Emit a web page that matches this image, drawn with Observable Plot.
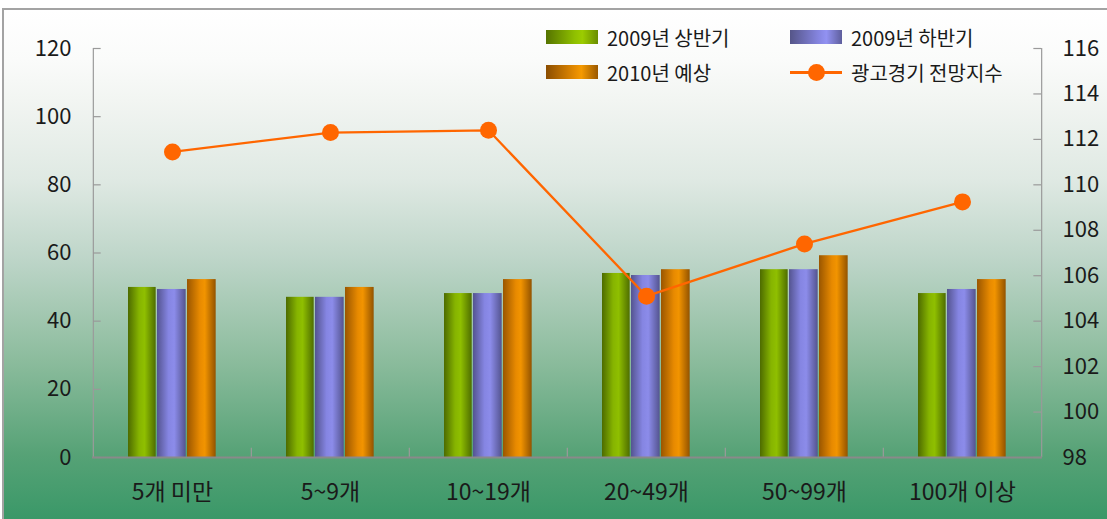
<!DOCTYPE html>
<html><head><meta charset="utf-8">
<script src="https://cdn.jsdelivr.net/npm/d3@7"></script>
<script src="https://cdn.jsdelivr.net/npm/@observablehq/plot@0.6"></script>
<style>
body{margin:0;background:#fff;font-family:"Noto Sans CJK KR","Noto Sans",sans-serif;}
#wrap{position:relative;width:1107px;height:519px;overflow:hidden;}
#bg{position:absolute;left:2px;top:8px;width:1130px;height:540px;border-top:2px solid #a3a3a3;border-left:2px solid #a3a3a3;
 background:linear-gradient(to bottom,#ffffff 0px,#fafbfa 50px,#f2f5f2 90px,#dfe9e3 170px,#bdd5c8 250px,#8cbc9d 350px,#56a276 445px,#3a9868 509px,#3a9868 540px);}
#chart{position:absolute;left:0;top:0;}
.lg{position:absolute;font-size:20px;color:#1a1a1a;white-space:nowrap;line-height:1;}
.sw{position:absolute;width:52px;height:14px;}
</style></head>
<body>
<div id="wrap"><div id="bg"></div><div id="chart"></div><div id="legend"></div></div>
<script>
// ---- data ----
const categories = ["5개 미만", "5~9개", "10~19개", "20~49개", "50~99개", "100개 이상"];
const firstHalf2009 = [49.9, 47, 48.1, 54, 55.1, 48.1];
const secondHalf2009 = [49.3, 47, 48.1, 53.4, 55.1, 49.3];
const forecast2010 = [52.2, 49.9, 52.2, 55.1, 59.2, 52.2];
const outlookIndex = [111.45, 112.3, 112.4, 105.1, 107.4, 109.25];
const leftTicks = [0, 20, 40, 60, 80, 100, 120];
const rightTicks = [98, 100, 102, 104, 106, 108, 110, 112, 114, 116];
const seriesNames = ["2009년 상반기", "2009년 하반기", "2010년 예상", "광고경기 전망지수"];

// ---- layout ----
const W = 1107, H = 519, mL = 92, mR = 65, mT = 48, mB = 62;
const bw = (W - mL - mR) / categories.length;
const rMin = rightTicks[0], rMax = rightTicks[rightTicks.length - 1];
const lMax = leftTicks[leftTicks.length - 1];
const toLeft = v => (v - rMin) / (rMax - rMin) * lMax;
const fromLeft = v => rMin + v / lMax * (rMax - rMin);

const rows = categories.map((c, i) => ({cat: c, a: firstHalf2009[i], b: secondHalf2009[i], c: forecast2010[i], idx: outlookIndex[i]}));

const bars = [
  {key: "a", fill: "url(#gGreen)", il: 35, ir: bw - 63},
  {key: "b", fill: "url(#gPurple)", il: 64, ir: bw - 93},
  {key: "c", fill: "url(#gOrange)", il: 94, ir: bw - 123}
];
const gray = "#9a9a9a";

const plot = Plot.plot({
  width: W, height: H,
  marginLeft: mL, marginRight: mR, marginTop: mT, marginBottom: mB,
  style: {background: "transparent", fontFamily: "'Noto Sans CJK KR', sans-serif", fontSize: "22px", color: "#1a1a1a"},
  x: {type: "band", domain: categories, padding: 0, label: null},
  y: {domain: [0, lMax], label: null},
  marks: [
    ...bars.map(s => Plot.barY(rows, {x: "cat", y: s.key, fill: s.fill, insetLeft: s.il, insetRight: s.ir})),
    Plot.ruleX([categories[0]], {dx: -bw / 2, y1: 0, y2: lMax, stroke: gray, strokeWidth: 1.2}),
    Plot.ruleX([categories[categories.length - 1]], {dx: bw / 2, y1: 0, y2: lMax, stroke: gray, strokeWidth: 1.2}),
    Plot.ruleX(categories.slice(1), {dx: -bw / 2, y1: 0, y2: 2.7, stroke: gray, strokeWidth: 1.2}),
    Plot.tickY(leftTicks, {y: d => d, x: () => categories[0], insetRight: bw - 8, stroke: gray, strokeWidth: 1.2}),
    Plot.tickY(rightTicks.map(toLeft), {y: d => d, x: () => categories[categories.length - 1], insetLeft: bw - 8, stroke: gray, strokeWidth: 1.2}),
    Plot.ruleY([0], {stroke: "#8a8a8a", strokeWidth: 2}),
    Plot.axisY({anchor: "left", ticks: leftTicks, tickSize: 0, tickPadding: 21, fontSize: 22, label: null}),
    Plot.axisY({anchor: "right", ticks: rightTicks.map(toLeft), tickFormat: d => Math.round(fromLeft(d)), tickSize: 0, tickPadding: 20, fontSize: 22, label: null}),
    Plot.axisX({tickSize: 0, tickPadding: 26, fontSize: 23, label: null}),
    Plot.line(rows, {x: "cat", y: d => toLeft(d.idx), stroke: "#ff6600", strokeWidth: 2.3}),
    Plot.dot(rows, {x: "cat", y: d => toLeft(d.idx), r: 8.5, fill: "#ff6600", stroke: "none"})
  ]
});

// gradients for bars
const defs = d3.select(plot).insert("defs", ":first-child");
const grads = {
  gGreen: [["0%", "#4d6b00"], ["40%", "#86b400"], ["60%", "#8fbf00"], ["100%", "#4f6e00"]],
  gPurple: [["0%", "#545490"], ["40%", "#8585e2"], ["60%", "#8c8cea"], ["100%", "#545490"]],
  gOrange: [["0%", "#9a5600"], ["45%", "#e88a00"], ["62%", "#f29400"], ["100%", "#935300"]]
};
for (const [id, stops] of Object.entries(grads)) {
  const g = defs.append("linearGradient").attr("id", id).attr("x1", 0).attr("x2", 1).attr("y1", 0).attr("y2", 0);
  for (const [o, c] of stops) g.append("stop").attr("offset", o).attr("stop-color", c);
}
document.getElementById("chart").appendChild(plot);

// legend
const legendCss = [
  "linear-gradient(to right,#557300,#8fc000 55%,#9ccc00 70%,#6a8d00)",
  "linear-gradient(to right,#555588,#8585e0 55%,#9292f2 70%,#5e5e9c)",
  "linear-gradient(to right,#8b4d00,#e48a00 55%,#f59a00 68%,#9a5800)"
];
const lg = document.getElementById("legend");
const items = [
  {x: 546, y: 30, kind: 0}, {x: 790, y: 30, kind: 1},
  {x: 546, y: 65, kind: 2}, {x: 790, y: 65, kind: 3}
];
items.forEach((it, i) => {
  if (it.kind < 3) {
    const s = document.createElement("div");
    s.className = "sw";
    s.style.left = it.x + "px"; s.style.top = it.y + "px";
    s.style.background = legendCss[it.kind];
    lg.appendChild(s);
  } else {
    const l = document.createElement("div");
    l.style.cssText = `position:absolute;left:${it.x}px;top:${it.y + 6}px;width:52px;height:2.5px;background:#ff6600;`;
    lg.appendChild(l);
    const c = document.createElement("div");
    c.style.cssText = `position:absolute;left:${it.x + 26 - 8.5}px;top:${it.y + 7 - 8.5}px;width:17px;height:17px;border-radius:50%;background:#ff6600;`;
    lg.appendChild(c);
  }
  const t = document.createElement("div");
  t.className = "lg";
  t.textContent = seriesNames[i];
  t.style.left = (it.x + 61) + "px"; t.style.top = (it.y - 2) + "px";
  lg.appendChild(t);
});
</script>
</body></html>
